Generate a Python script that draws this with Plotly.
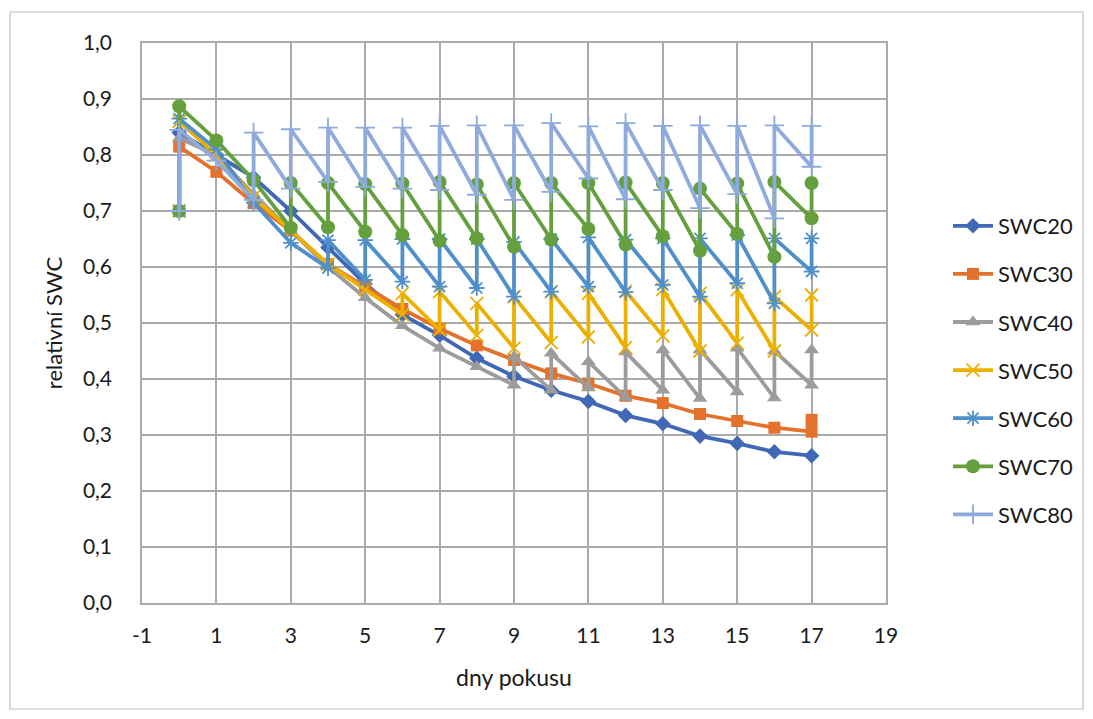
import plotly.graph_objects as go

# ---- data ----
series_names = ["SWC20", "SWC30", "SWC40", "SWC50", "SWC60", "SWC70", "SWC80"]

SWC20_x = [0, 0, 1, 2, 3, 4, 5, 6, 7, 8, 9, 10, 11, 12, 13, 14, 15, 16, 17]
SWC20_y = [0.70, 0.84, 0.80, 0.76, 0.70, 0.635, 0.57, 0.515, 0.478, 0.437, 0.405,
           0.38, 0.36, 0.335, 0.32, 0.298, 0.285, 0.27, 0.263]

SWC30_x = [0, 0, 1, 2, 3, 4, 5, 6, 7, 8, 9, 10, 11, 12, 13, 14, 15, 16, 17, 17]
SWC30_y = [0.70, 0.815, 0.77, 0.714, 0.665, 0.605, 0.565, 0.525, 0.49, 0.46, 0.434,
           0.41, 0.392, 0.37, 0.357, 0.3375, 0.325, 0.313, 0.306, 0.327]

SWC40_x = [0, 0, 1, 2, 3, 4, 5, 6, 7, 8, 9, 9, 10, 10, 11, 11, 12, 12, 13, 13,
           14, 14, 15, 15, 16, 16, 17, 17]
SWC40_y = [0.70, 0.83, 0.80, 0.73, 0.665, 0.60, 0.545, 0.495, 0.455, 0.422, 0.389, 0.44,
           0.38, 0.446, 0.384, 0.431, 0.367, 0.448, 0.38, 0.452, 0.365, 0.452,
           0.377, 0.455, 0.366, 0.45, 0.389, 0.452]

SWC50_x = [0, 0, 1, 2, 3, 4, 5, 6, 6, 7, 7, 8, 8, 9, 9, 10, 10, 11, 11, 12, 12,
           13, 13, 14, 14, 15, 15, 16, 16, 17, 17]
SWC50_y = [0.70, 0.86, 0.80, 0.725, 0.665, 0.605, 0.56, 0.515, 0.553, 0.4875, 0.556,
           0.478, 0.535, 0.455, 0.547, 0.465, 0.556, 0.475, 0.553, 0.456, 0.557,
           0.477, 0.56, 0.45, 0.553, 0.464, 0.559, 0.45, 0.547, 0.4875, 0.55]

SWC60_x = [0, 0, 1, 2, 3, 4, 4, 5, 5, 6, 6, 7, 7, 8, 8, 9, 9, 10, 10, 11, 11,
           12, 12, 13, 13, 14, 14, 15, 15, 16, 16, 17, 17]
SWC60_y = [0.70, 0.865, 0.81, 0.715, 0.643, 0.598, 0.648, 0.577, 0.648, 0.574, 0.65,
           0.565, 0.65, 0.5625, 0.65, 0.547, 0.645, 0.556, 0.65, 0.565, 0.653,
           0.555, 0.649, 0.568, 0.651, 0.547, 0.651, 0.571, 0.657, 0.535, 0.651,
           0.592, 0.651]

SWC70_x = [0, 0, 1, 2, 3, 3, 4, 4, 5, 5, 6, 6, 7, 7, 8, 8, 9, 9, 10, 10, 11, 11,
           12, 12, 13, 13, 14, 14, 15, 15, 16, 16, 17, 17]
SWC70_y = [0.70, 0.887, 0.826, 0.755, 0.67, 0.75, 0.671, 0.75, 0.663, 0.748, 0.657,
           0.749, 0.647, 0.752, 0.651, 0.7475, 0.636, 0.75, 0.649, 0.75, 0.668, 0.75,
           0.64, 0.751, 0.655, 0.75, 0.629, 0.74, 0.659, 0.749, 0.618, 0.752,
           0.687, 0.75]

SWC80_x = [0, 0, 1, 2, 2, 3, 3, 4, 4, 5, 5, 6, 6, 7, 7, 8, 8, 9, 9, 10, 10, 11, 11,
           12, 12, 13, 13, 14, 14, 15, 15, 16, 16, 17, 17]
SWC80_y = [0.70, 0.845, 0.79, 0.72, 0.84, 0.74, 0.846, 0.752, 0.849, 0.743, 0.849,
           0.74, 0.849, 0.7375, 0.852, 0.729, 0.853, 0.72, 0.853, 0.734, 0.857,
           0.758, 0.851, 0.721, 0.857, 0.7375, 0.852, 0.705, 0.853, 0.73, 0.852,
           0.687, 0.853, 0.779, 0.852]

x_ticks = [-1, 1, 3, 5, 7, 9, 11, 13, 15, 17, 19]
y_ticks = [0.0, 0.1, 0.2, 0.3, 0.4, 0.5, 0.6, 0.7, 0.8, 0.9, 1.0]

# ---- styles ----
colors = ["#4068B4", "#E2722C", "#9C9C9C", "#EBB000", "#4F8FCA", "#64A03E", "#8FAADC"]
symbols = ["diamond", "square", "triangle-up", "x-thin", "asterisk", "circle", "cross-thin"]
sizes = [12, 12, 13, 13, 13, 14, 14]

data = [(SWC20_x, SWC20_y), (SWC30_x, SWC30_y), (SWC40_x, SWC40_y), (SWC50_x, SWC50_y),
        (SWC60_x, SWC60_y), (SWC70_x, SWC70_y), (SWC80_x, SWC80_y)]

FONT = "Lato"
TXT = "#1a1a1a"
fig = go.Figure()
for i, (name, (xs, ys)) in enumerate(zip(series_names, data)):
    thin = symbols[i] in ("x-thin", "asterisk", "cross-thin")
    fig.add_trace(go.Scatter(
        x=xs, y=ys, name=name, mode="lines+markers",
        legendgroup=name,
        line=dict(color=colors[i], width=3.8),
        marker=dict(symbol=symbols[i], size=sizes[i], color=colors[i],
                    line=dict(color=colors[i], width=1.8 if thin else 0)),
    ))

W, H = 1093, 719
L, R, T, B = 142, 886, 43, 603
pw, ph = R - L, B - T

def px(xp):
    return (xp - L) / pw

def py(yp):
    return (B - yp) / ph

fig.update_layout(
    width=W, height=H,
    margin=dict(l=L, r=W - R, t=T, b=H - B, pad=0),
    paper_bgcolor="white", plot_bgcolor="white",
    separators=", ",
    font=dict(family=FONT, size=21, color=TXT),
    showlegend=True,
    legend=dict(x=px(948), y=py(205), xanchor="left", yanchor="top",
                font=dict(family=FONT, size=22, color=TXT),
                tracegroupgap=16.5, bgcolor="rgba(0,0,0,0)", itemwidth=40),
    shapes=[dict(type="rect", xref="paper", yref="paper",
                 x0=px(10), x1=px(1083), y0=py(709), y1=py(12),
                 line=dict(color="#BFBFBF", width=1.2), fillcolor="rgba(0,0,0,0)",
                 layer="below")],
)
fig.update_xaxes(
    range=[-1, 19], tickmode="array", tickvals=x_ticks,
    ticktext=[str(v) for v in x_ticks],
    showgrid=True, gridcolor="#ABABAB", gridwidth=1.5,
    showline=True, linecolor="#ABABAB", linewidth=1.5, mirror=True,
    zeroline=False, ticks="", ticklabelstandoff=13,
    tickfont=dict(family=FONT, size=21, color=TXT),
    title=dict(text="dny pokusu", standoff=24,
               font=dict(family=FONT, size=23, color=TXT)),
)
fig.update_yaxes(
    range=[0, 1], tickmode="array", tickvals=y_ticks,
    ticktext=[f"{v:.1f}".replace(".", ",") for v in y_ticks],
    showgrid=True, gridcolor="#ABABAB", gridwidth=1.5,
    showline=True, linecolor="#ABABAB", linewidth=1.5, mirror=True,
    zeroline=False, ticks="", ticklabelstandoff=24,
    tickfont=dict(family=FONT, size=21, color=TXT),
    title=dict(text="relativní SWC", standoff=14,
               font=dict(family=FONT, size=22, color=TXT)),
)

fig.write_html("out.html")
